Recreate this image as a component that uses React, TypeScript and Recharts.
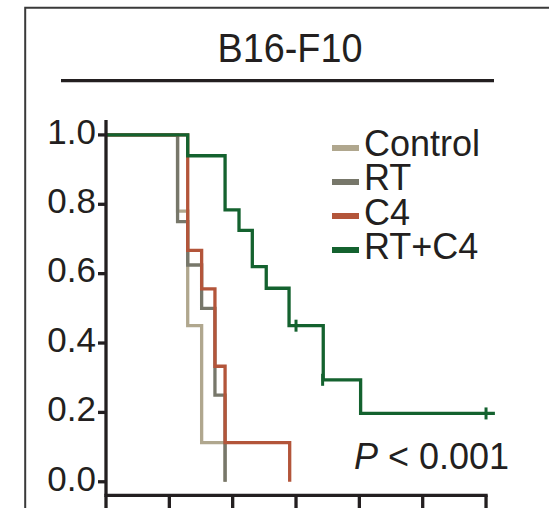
import { ComposedChart, Line, Scatter, XAxis, YAxis, ReferenceLine, Legend } from "recharts";

// groups as they appear in the legend (drawing order too: last one on top)
const groups = ["Control", "RT", "C4", "RT+C4"];
const colors = ["#b0a78e", "#77776a", "#b3553a", "#14622f"];

// survival steps (time in x-axis units, fraction surviving)
const controlTime = [0, 11.3, 12.9, 15.1, 18.8];
const controlSurv = [1, 0.78, 0.45, 0.113, 0];
const rtTime = [0, 11.3, 12.9, 15.1, 17.2, 18.8];
const rtSurv = [1, 0.75, 0.625, 0.5, 0.25, 0];
const c4Time = [0, 12.9, 15.1, 17.2, 18.8, 29.0];
const c4Surv = [1, 0.667, 0.556, 0.333, 0.113, 0];
const comboTime = [0, 12.9, 18.8, 21.0, 23.1, 25.3, 28.9, 34.3, 40.2, 61.4];
const comboSurv = [1, 0.94, 0.784, 0.725, 0.62, 0.558, 0.45, 0.294, 0.197, 0.197];

// censored observations on RT+C4
const censorTime = [30, 34.2, 60];
const censorSurv = [0.45, 0.294, 0.197];

const yTicks = [0, 0.2, 0.4, 0.6, 0.8, 1.0];
const xTicks = [0, 10, 20, 30, 40, 50, 60];
const title = "B16-F10";
const pLabel = "P";
const pRest = " < 0.001";

const INK = "#231f20";
const FONT = '"Liberation Sans", Arial, sans-serif';
const Y_MIN = -0.039;
const Y_MAX = 1.043;

const toPoints = (ts: number[], vs: number[]) => ts.map((t, i) => ({ t, v: vs[i] }));

const series = [
  toPoints(controlTime, controlSurv),
  toPoints(rtTime, rtSurv),
  toPoints(c4Time, c4Surv),
  toPoints(comboTime, comboSurv),
];
const censored = toPoints(censorTime, censorSurv);

function YTick(props: any) {
  const { x, y, payload } = props;
  return (
    <text x={x} y={y} dy={8.8} textAnchor="end" fontSize={35} fill={INK} fontFamily={FONT}>
      {Number(payload.value).toFixed(1)}
    </text>
  );
}

function CensorMark(props: any) {
  const { cx, cy } = props;
  return <line x1={cx} x2={cx} y1={cy - 6} y2={cy + 6} stroke={colors[3]} strokeWidth={3} />;
}

function LegendBox() {
  return (
    <div style={{ fontFamily: FONT }}>
      {groups.map((g, i) => (
        <div key={g} style={{ display: "flex", alignItems: "center", height: 34.2 }}>
          <div style={{ width: 27, height: 6, marginTop: 6.8, background: colors[i], marginRight: 5 }} />
          <span
            style={{
              display: "block",
              height: 34.2,
              fontSize: 36,
              lineHeight: "34.2px",
              color: INK,
              whiteSpace: "nowrap",
            }}
          >
            {g}
          </span>
        </div>
      ))}
    </div>
  );
}

export default function App() {
  return (
    <div
      style={{
        position: "absolute",
        left: 0,
        top: 0,
        width: 549,
        height: 508,
        overflow: "hidden",
        background: "#fff",
        fontFamily: FONT,
      }}
    >
      <ComposedChart width={549} height={560} margin={{ top: 120, right: 50.3, bottom: 24.7, left: 0 }}>
        <XAxis
          type="number"
          dataKey="t"
          domain={[0, 62]}
          ticks={xTicks}
          axisLine={false}
          tickLine={{ stroke: INK, strokeWidth: 3.3 }}
          tickSize={20}
          height={40}
          tick={() => <g />}
        />
        <YAxis
          type="number"
          dataKey="v"
          domain={[Y_MIN, Y_MAX]}
          ticks={yTicks}
          width={106}
          axisLine={{ stroke: INK, strokeWidth: 3.3 }}
          tickLine={{ stroke: INK, strokeWidth: 3.3 }}
          tickSize={8}
          tickMargin={2}
          tick={<YTick />}
        />
        <ReferenceLine
          segment={[
            { x: 0, y: Y_MIN },
            { x: 60, y: Y_MIN },
          ]}
          stroke={INK}
          strokeWidth={3.3}
          strokeLinecap="square"
          ifOverflow="visible"
        />
        {series.map((pts, i) => (
          <Line
            key={groups[i]}
            data={pts}
            dataKey="v"
            name={groups[i]}
            type="stepAfter"
            stroke={colors[i]}
            strokeWidth={3.3}
            dot={false}
            activeDot={false}
            isAnimationActive={false}
          />
        ))}
        <Scatter data={censored} dataKey="v" shape={<CensorMark />} isAnimationActive={false} />
        <Legend
          layout="vertical"
          align="center"
          verticalAlign="middle"
          wrapperStyle={{ top: 127.3, left: 332, width: 200 }}
          content={() => <LegendBox />}
        />
      </ComposedChart>

      <svg
        width={549}
        height={508}
        style={{ position: "absolute", left: 0, top: 0, pointerEvents: "none" }}
      >
        <path d="M25.2 508 V7.7 H549" fill="none" stroke="#3a3a3a" strokeWidth={2} />
        <text
          x={290}
          y={61.7}
          textAnchor="middle"
          fontSize={41}
          textLength={145}
          lengthAdjust="spacingAndGlyphs"
          fill={INK}
          fontFamily={FONT}
        >
          {title}
        </text>
        <line x1={61} x2={494} y1={80.6} y2={80.6} stroke={INK} strokeWidth={3.3} />
        <text x={354} y={469.3} fontSize={36} fill={INK} fontFamily={FONT}>
          <tspan fontStyle="italic">{pLabel}</tspan>
          <tspan>{pRest}</tspan>
        </text>
      </svg>
    </div>
  );
}
